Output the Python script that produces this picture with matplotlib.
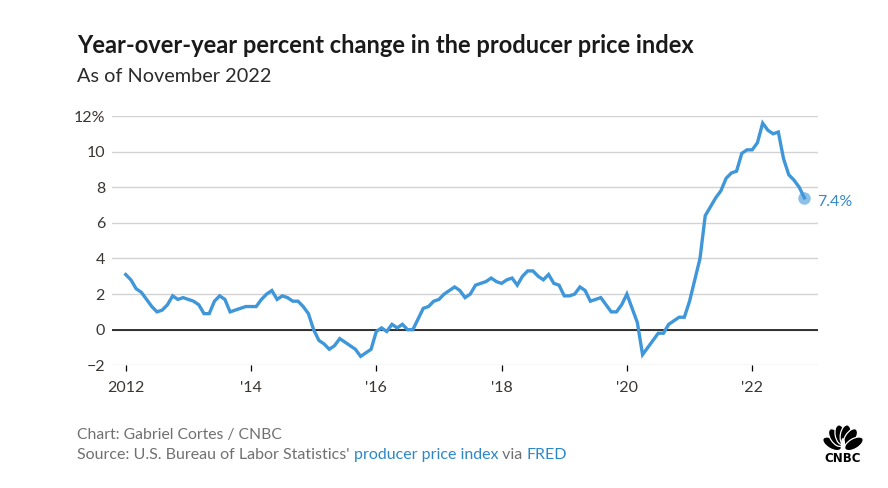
import numpy as np
import matplotlib
matplotlib.use("Agg")
import matplotlib.pyplot as plt
from matplotlib.patches import Ellipse

plt.rcParams['font.family'] = ['Lato', 'DejaVu Sans']

# monthly year-over-year % change, PPI final demand, Jan 2012 - Nov 2022
ppi_yoy = [
    3.1, 2.8, 2.3, 2.1, 1.7, 1.3, 1.0, 1.1, 1.4, 1.9, 1.7, 1.8,    # 2012
    1.7, 1.6, 1.4, 0.9, 0.9, 1.6, 1.9, 1.7, 1.0, 1.1, 1.2, 1.3,    # 2013
    1.3, 1.3, 1.7, 2.0, 2.2, 1.7, 1.9, 1.8, 1.6, 1.6, 1.3, 0.9,    # 2014
    0.0, -0.6, -0.8, -1.1, -0.9, -0.5, -0.7, -0.9, -1.1, -1.5, -1.3, -1.1,  # 2015
    -0.1, 0.1, -0.1, 0.3, 0.1, 0.3, 0.0, 0.0, 0.6, 1.2, 1.3, 1.6,  # 2016
    1.7, 2.0, 2.2, 2.4, 2.2, 1.8, 2.0, 2.5, 2.6, 2.7, 2.9, 2.7,    # 2017
    2.6, 2.8, 2.9, 2.5, 3.0, 3.3, 3.3, 3.0, 2.8, 3.1, 2.6, 2.5,    # 2018
    1.9, 1.9, 2.0, 2.4, 2.2, 1.6, 1.7, 1.8, 1.4, 1.0, 1.0, 1.4,    # 2019
    2.0, 1.2, 0.4, -1.4, -1.0, -0.6, -0.2, -0.2, 0.3, 0.5, 0.7, 0.7,  # 2020
    1.6, 2.8, 4.0, 6.4, 6.9, 7.4, 7.8, 8.5, 8.8, 8.9, 9.9, 10.1,   # 2021
    10.1, 10.5, 11.6, 11.2, 11.0, 11.1, 9.6, 8.7, 8.4, 8.0, 7.4,   # 2022
]
dates = 2012 + np.arange(len(ppi_yoy)) / 12.0

y_ticks = [-2, 0, 2, 4, 6, 8, 10, 12]
y_labels = ['\u22122', '0', '2', '4', '6', '8', '10', '12%']
x_ticks = [2012, 2014, 2016, 2018, 2020, 2022]
x_labels = ['2012', "'14", "'16", "'18", "'20", "'22"]

W, H = 888, 488
line_blue = '#3f97d9'
text_dark = '#3a3633'

fig = plt.figure(figsize=(W / 100, H / 100), dpi=100)
ax = fig.add_axes([112 / W, 1 - 365.3 / H, (818 - 112) / W, (365.3 - 116) / H])

ax.plot(dates, ppi_yoy, color=line_blue, lw=2.4, solid_joinstyle='miter', zorder=3)
ax.plot(dates[-1], ppi_yoy[-1], 'o', ms=9, color=line_blue, alpha=0.6, mec='none', zorder=4)
ax.annotate(f'{ppi_yoy[-1]}%', (dates[-1], ppi_yoy[-1]), xytext=(9, -3),
            textcoords='offset points', va='center', ha='left',
            color='#3589cc', fontsize=11.5)

ax.axhline(0, color='black', lw=1.1, zorder=2)
ax.set_ylim(-2, 12)
ax.set_xlim(2012 - 2.62 / 12, 2012 + 132.6 / 12)
ax.set_yticks(y_ticks)
ax.set_yticklabels(y_labels)
ax.set_xticks(x_ticks)
ax.set_xticklabels(x_labels)
ax.grid(axis='y', color='#d2d2d2', lw=1)
ax.set_axisbelow(True)
for s in ax.spines.values():
    s.set_visible(False)
ax.tick_params(axis='y', length=0, pad=5, labelsize=11.5, labelcolor=text_dark)
ax.tick_params(axis='x', length=4.3, width=0.9, color='black', direction='out',
               pad=7, labelsize=11.5, labelcolor=text_dark)

# titles
fig.text(77 / W, 1 - 46 / H, 'Year-over-year percent change in the producer price index',
         fontsize=17, fontweight='bold', color='#1a1a1a', va='center', ha='left')
fig.text(77 / W, 1 - 76 / H, 'As of November 2022', fontsize=14.3, color='#2a2a2a',
         va='center', ha='left')

# footer
grey = '#707070'
link = '#2b87c9'
fig.text(77 / W, 1 - 435 / H, 'Chart: Gabriel Cortes / CNBC', fontsize=11.3,
         color=grey, va='center', ha='left')
pieces = [("Source: U.S. Bureau of Labor Statistics' ", grey),
          ('producer price index', link), (' via ', grey), ('FRED', link)]
fig.canvas.draw()
renderer = fig.canvas.get_renderer()
x = 77 / W
for txt, col in pieces:
    t = fig.text(x, 1 - 455 / H, txt, fontsize=11.5, color=col, va='center', ha='left')
    bb = t.get_window_extent(renderer)
    x = bb.x1 / W

# CNBC peacock logo, simplified
lax = fig.add_axes([820 / W, 1 - 463 / H, 46 / W, 38 / H])
lax.set_xlim(-1.1, 1.1)
lax.set_ylim(-0.7, 1.2)
lax.axis('off')
for ang in [162, 130, 103, 77, 50, 18]:
    r = np.deg2rad(ang)
    lax.add_patch(Ellipse((0.55 * np.cos(r), 0.68 * np.sin(r) + 0.05), 1.0, 0.5,
                          angle=ang * 0.8 + 18, fc='black', ec='white', lw=0.9))
lax.add_patch(Ellipse((0, 0.25), 0.2, 0.6, fc='white', ec='none'))
lax.text(0, -0.48, 'CNBC', ha='center', va='center', fontsize=8.5,
         fontweight='heavy', family='DejaVu Sans', color='black')

fig.savefig('out.png', dpi=100)
